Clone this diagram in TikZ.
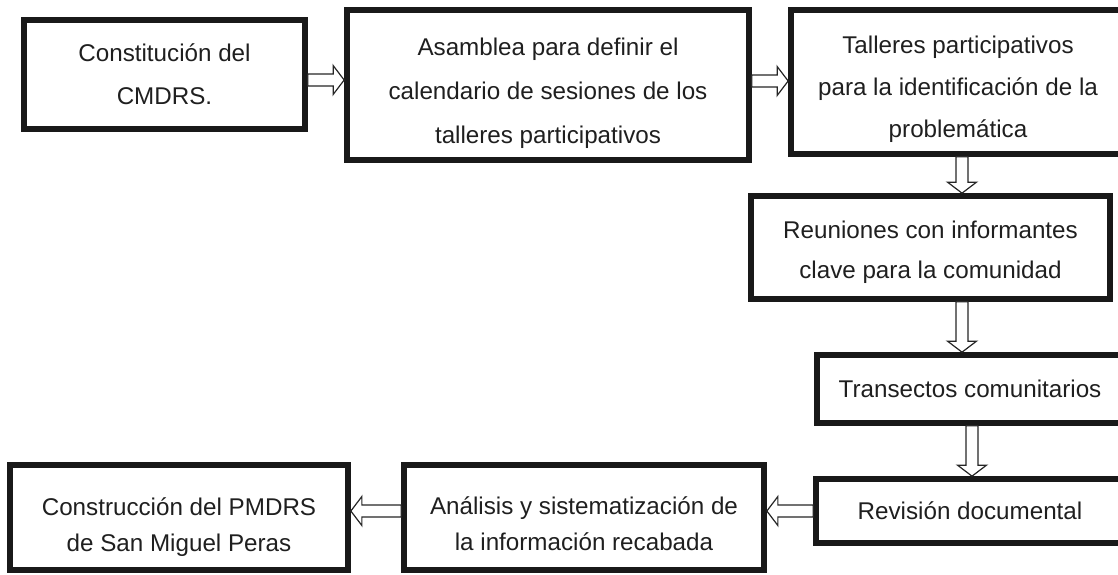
\documentclass[tikz,border=0pt]{standalone}
\usepackage{fontspec}
\setmainfont{Liberation Sans}
\usetikzlibrary{calc}
\newcommand{\firstlinegap}[1]{\rule{0pt}{#1}}
\begin{document}
\begin{tikzpicture}[
  x=0.5pt, y=-0.5pt,
  block/.style={rectangle, draw=black!90, line width=2.85pt, inner sep=0pt, align=center, text=black!88, font=\fontsize{12.1}{21}\selectfont},
  hollowline/.style={draw=black!85, line width=0.6pt, fill=white, line join=miter},
  harrow/.style={hollowline, to path={let \p1=(\tikztostart), \p2=(\tikztotarget), \p3=(\x2,\y1), \p4=($(\p3)!5.5pt!(\p1)$) in
    ($(\p1)!3pt!90:(\p3)$) -- ($(\p4)!3pt!90:(\p3)$) -- ($(\p4)!7.25pt!90:(\p3)$) -- (\p3)
    -- ($(\p4)!7.25pt!-90:(\p3)$) -- ($(\p4)!3pt!-90:(\p3)$) -- ($(\p1)!3pt!-90:(\p3)$) -- cycle}},
  varrow/.style={hollowline, to path={let \p1=(\tikztostart), \p2=(\tikztotarget), \p3=(\x1,\y2), \p4=($(\p3)!5.5pt!(\p1)$) in
    ($(\p1)!3pt!90:(\p3)$) -- ($(\p4)!3pt!90:(\p3)$) -- ($(\p4)!7.25pt!90:(\p3)$) -- (\p3)
    -- ($(\p4)!7.25pt!-90:(\p3)$) -- ($(\p4)!3pt!-90:(\p3)$) -- ($(\p1)!3pt!-90:(\p3)$) -- cycle}}
]
\useasboundingbox (0,0) rectangle (1118,574);

% Blocks
\node[block, minimum width=140.5pt, minimum height=54.5pt, font=\fontsize{12.1}{21.5}\selectfont] (constitucion) at (164.5,74.5) {Constitución del\\CMDRS.};
\node[block, minimum width=201pt, minimum height=75pt, font=\fontsize{12.1}{22}\selectfont] (asamblea) at (548,85) {\firstlinegap{16.8pt}Asamblea para definir el\\calendario de sesiones de los\\talleres participativos};
\node[block, minimum width=167pt, minimum height=72pt] (talleres) at (958,82) {\firstlinegap{15.8pt}Talleres participativos\\para la identificación de la\\problemática};
\node[block, minimum width=179.5pt, minimum height=51.5pt, font=\fontsize{12.1}{20}\selectfont] (reuniones) at (930.5,247.5) {\firstlinegap{13.8pt}Reuniones con informantes\\clave para la comunidad};
\node[block, minimum width=153pt, minimum height=34pt] (transectos) at (970,389) {Transectos comunitarios};
\node[block, minimum width=154pt, minimum height=32pt] (revision) at (970,511) {Revisión documental};
\node[block, minimum width=180pt, minimum height=52.5pt, font=\fontsize{12.1}{18}\selectfont] (analisis) at (584,517.5) {\firstlinegap{15.1pt}Análisis y sistematización de\\la información recabada};
\node[block, minimum width=169pt, minimum height=52.5pt, font=\fontsize{12.1}{18}\selectfont] (construccion) at (179,517.5) {\firstlinegap{18pt}Construcción del PMDRS\\de San Miguel Peras};

% Arrows
\draw[harrow] ([yshift=-2.75pt]constitucion.east) to (asamblea.west);
\draw[harrow] ([yshift=2pt]asamblea.east) to (talleres.west);
\draw[varrow] ([xshift=2pt]talleres.south) to (reuniones.north);
\draw[varrow] ([xshift=15.75pt]reuniones.south) to (transectos.north);
\draw[varrow] ([xshift=1pt]transectos.south) to (revision.north);
\draw[harrow] (revision.west) to (analisis.east);
\draw[harrow] ([yshift=3.25pt]analisis.west) to (construccion.east);

\end{tikzpicture}
\end{document}
